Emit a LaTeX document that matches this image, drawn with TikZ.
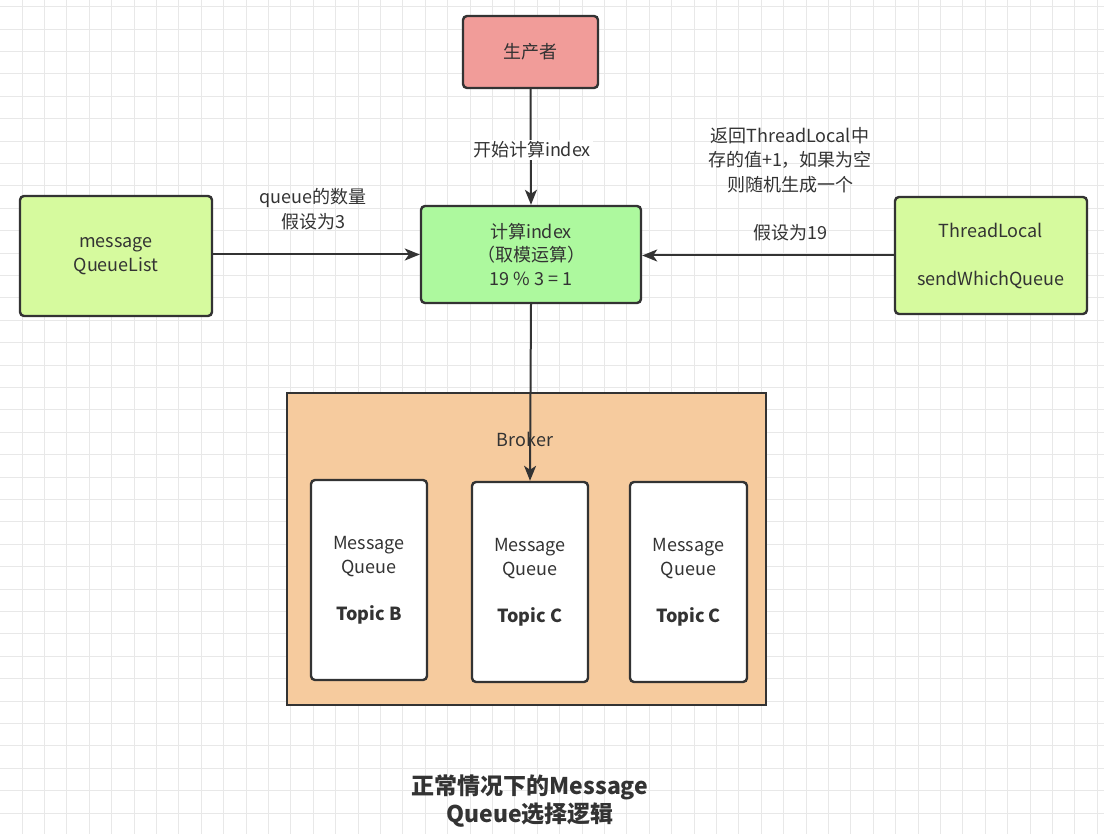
\documentclass[tikz,border=0pt]{standalone}
\usepackage{fontspec}
\setmainfont{Noto Sans CJK SC}
\usetikzlibrary{arrows.meta}
\definecolor{gridline}{HTML}{E8E8E8}
\definecolor{ink}{HTML}{333333}
\definecolor{prodfill}{HTML}{F19C99}
\definecolor{calcfill}{HTML}{ADF99E}
\definecolor{sidefill}{HTML}{D6FA9E}
\definecolor{brokerfill}{HTML}{F6CB9E}
\tikzset{
  box/.style={draw=ink, line width=2.4pt, rounded corners=4pt, inner sep=0pt,
    align=center, text=ink, font=\fontsize{18}{24}\selectfont},
  conn/.style={draw=ink, line width=2pt, -{Stealth[length=15pt,width=12pt,inset=4pt]}},
  lbl/.style={text=ink, align=center, font=\fontsize{18}{24.5}\selectfont, inner sep=2pt},
}
\begin{document}
\begin{tikzpicture}[x=1pt,y=-1pt]
\useasboundingbox (0,0) rectangle (1104,834);
\fill[white] (0,0) rectangle (1104,834);
% grid
\foreach \k in {1,...,49} {
  \pgfmathsetmacro{\xx}{22.4*\k-0.4}
  \draw[gridline, line width=1pt] (\xx,0) -- (\xx,834);
}
\foreach \k in {0,...,37} {
  \pgfmathsetmacro{\yy}{22.4*\k+6.7}
  \draw[gridline, line width=1pt] (0,\yy) -- (1104,\yy);
}
% broker
\node[box, rounded corners=0pt, fill=brokerfill, minimum width=479pt, minimum height=312pt] (broker) at (526.5,549) {};
\node[lbl] (brokerlbl) at (525,439) {Broker};
% nodes
\node[box, fill=prodfill, minimum width=135pt, minimum height=72pt] (prod) at (530.5,52) {生产者};
\node[box, fill=calcfill, minimum width=220pt, minimum height=97pt, font=\fontsize{18}{23.5}\selectfont] (calc) at (531,254.5) {计算index\\（取模运算）\\19 \% 3 = 1};
\node[box, fill=sidefill, minimum width=192pt, minimum height=120pt] (mql) at (116,256) {message\\QueueList};
\node[box, fill=sidefill, minimum width=192pt, minimum height=117pt] (tl) at (991,255.5) {ThreadLocal\\[24pt]sendWhichQueue};
\node[box, fill=white, minimum width=116pt, minimum height=200pt] (mq1) at (369,580) {Message\\Queue\\[23pt]\textbf{Topic B}};
\node[box, fill=white, minimum width=116pt, minimum height=200pt] (mq2) at (530,582) {Message\\Queue\\[23pt]\textbf{Topic C}};
\node[box, fill=white, minimum width=117pt, minimum height=200pt] (mq3) at (688.5,582) {Message\\Queue\\[23pt]\textbf{Topic C}};
% connectors
\draw[conn] (prod.south) -- (calc.north);
\node[lbl, fill=white] (lblstart) at (532,150) {开始计算index};
\draw[conn] (mql.east |- calc.west) -- (calc.west);
\node[lbl] (lblq) at (313,209) {queue的数量\\假设为3};
\draw[conn] (tl.west) -- (calc.east |- tl.west);
\node[lbl] (lblret) at (790,160) {返回ThreadLocal中\\存的值+1，如果为空\\则随机生成一个};
\node[lbl] (lbl19) at (790,233) {假设为19};
\draw[conn] (calc.south) -- (mq2.north);
% title
\node[lbl, font=\bfseries\fontsize{23}{28.5}\selectfont] (title) at (530,801) {正常情况下的Message\\Queue选择逻辑};
\end{tikzpicture}
\end{document}
